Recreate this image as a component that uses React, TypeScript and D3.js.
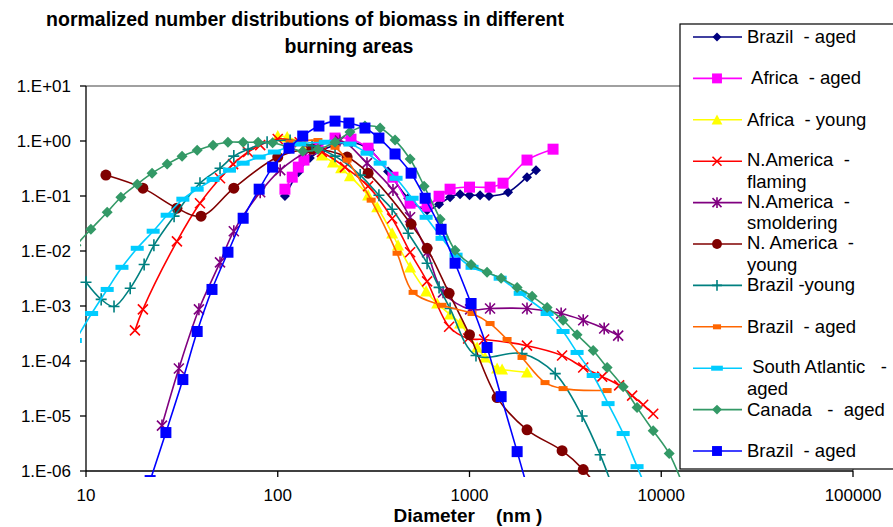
import React from "react";
import * as d3 from "d3";

// ---------- data (diameter nm, normalized number) ----------
const brazilAgedNavy: [number, number][] = [
  [109, 0.1], [128, 0.27], [147, 0.49], [170, 0.68], [199, 0.84], [244, 0.95], [303, 0.68], [376, 0.28],
  [479, 0.091], [601, 0.055], [694, 0.071], [792, 0.095], [893, 0.108], [1000, 0.103], [1135, 0.103],
  [1264, 0.1], [1589, 0.117], [1995, 0.22], [2223, 0.295],
];
const africaAged: [number, number][] = [
  [109, 0.133], [119, 0.22], [128, 0.335], [137, 0.45], [162, 0.74], [199, 1.13], [241, 1.08], [296, 0.74],
  [399, 0.22], [490, 0.074], [601, 0.065], [694, 0.099], [792, 0.133], [1000, 0.145], [1280, 0.145],
  [1496, 0.171], [1995, 0.45], [2727, 0.71],
];
const africaYoung: [number, number][] = [
  [100, 1.23], [112, 1.18], [139, 0.84], [170, 0.55], [194, 0.41], [214, 0.32], [238, 0.23], [296, 0.103],
  [330, 0.0625], [395, 0.021], [424, 0.0127], [490, 0.00505], [594, 0.00185], [678, 0.00111], [792, 0.000703],
  [893, 0.000482], [1096, 0.000176], [1205, 0.000116], [1393, 7.3e-5], [1479, 7.0e-5], [1995, 6.2e-5],
];
const naFlaming: [number, number][] = [
  [18, 3.6e-4], [19.8, 8.7e-4], [29.8, 0.015], [39.3, 0.074], [50, 0.21], [58.5, 0.38], [70, 0.63], [81, 0.84],
  [100, 1.09], [130, 0.95], [170, 0.63], [224, 0.335], [296, 0.151], [395, 0.039], [490, 0.0095], [601, 0.0028],
  [783, 4.2e-4], [984, 2.57e-4], [1192, 2.46e-4], [1995, 1.9e-4], [3040, 1.26e-4], [3918, 7.6e-5], [4920, 5.2e-5],
  [6030, 3.6e-5], [7050, 2.35e-5], [8050, 1.6e-5], [9080, 1.1e-5],
];
const naSmoldering: [number, number][] = [
  [24.9, 6.7e-6], [30.5, 7.3e-5], [38.8, 8.7e-4], [50, 0.0062], [59, 0.0229], [81, 0.117], [103, 0.295],
  [147, 0.68], [211, 1.02], [292, 0.395], [399, 0.128], [490, 0.041], [601, 0.0095], [728, 1.77e-3],
  [1007, 8.7e-4], [1280, 9.0e-4], [1995, 9.0e-4], [3006, 7.3e-4], [3918, 5.5e-4], [5040, 3.9e-4], [5960, 2.9e-4],
];
const naYoung: [number, number][] = [
  [12.7, 0.24], [19.8, 0.139], [29.8, 0.06], [39.8, 0.043], [59, 0.139], [100, 0.51], [151, 0.71], [230, 0.51],
  [296, 0.26], [496, 0.0306], [601, 0.0112], [783, 1.7e-3], [1000, 3.0e-4], [1393, 2.16e-5], [1995, 5.6e-6],
  [3040, 2.34e-6], [3918, 1.06e-6], [4800, 4.4e-7],
];
const brazilYoung: [number, number][] = [
  [10, 2.7e-3], [12, 1.32e-3], [14, 9.8e-4], [17, 2.1e-3], [20.1, 5.7e-3], [22.6, 0.0127], [28.8, 0.043],
  [39.3, 0.171], [50, 0.32], [59, 0.53], [70, 0.71], [88, 0.95], [116, 1.02], [151, 0.82], [199, 0.53],
  [269, 0.24], [337, 0.103], [395, 0.0575], [479, 0.021], [601, 0.006], [694, 2.18e-3], [792, 9.0e-4],
  [1081, 1.26e-4], [1879, 1.37e-4], [2800, 5.9e-5], [3867, 1.0e-5], [4800, 1.98e-6], [5540, 5.4e-7],
];
const brazilAgedOrange: [number, number][] = [
  [116, 0.95], [162, 1.02], [199, 0.77], [230, 0.45], [307, 0.084], [419, 0.0091], [508, 1.77e-3],
  [719, 1.03e-3], [1031, 7.3e-4], [1280, 4.8e-4], [1570, 2.46e-4], [1879, 1.16e-4], [2477, 4.05e-5],
  [3076, 3.15e-5], [5220, 2.9e-5],
];
const southAtlantic: [number, number][] = [
  [8.8, 2.36e-4], [10.7, 7.3e-4], [12.9, 2.0e-3], [15.4, 5.05e-3], [18.5, 0.0112], [22.4, 0.0229],
  [26.5, 0.0447], [32, 0.0875], [38, 0.133], [46, 0.2], [56, 0.295], [66, 0.395], [80, 0.51], [96, 0.63],
  [130, 0.88], [177, 0.95], [238, 0.88], [292, 0.6], [342, 0.395], [414, 0.21], [502, 0.091], [594, 0.041],
  [719, 0.017], [851, 8.4e-3], [1031, 5.05e-3], [1445, 3.2e-3], [1838, 1.7e-3], [2540, 7.3e-4],
  [3076, 3.44e-4], [3640, 1.43e-4], [4415, 5.45e-5], [5280, 1.68e-5], [6330, 4.8e-6], [7480, 1.2e-6],
  [8240, 5.4e-7],
];
const canadaAged: [number, number][] = [
  [8.87, 0.0127], [10.6, 0.0248], [12.9, 0.0507], [15.2, 0.095], [18.5, 0.164], [22.1, 0.26], [26.5, 0.38],
  [31.7, 0.53], [38, 0.68], [46, 0.84], [55, 0.95], [66, 0.95], [79, 0.95], [94, 0.93], [113, 0.78],
  [135, 0.65], [162, 0.71], [199, 0.95], [238, 1.45], [285, 1.87], [342, 1.72], [409, 1.04], [490, 0.47],
  [580, 0.151], [703, 0.0378], [841, 0.0103], [1019, 5.7e-3], [1235, 4.1e-3], [1462, 3.2e-3], [1772, 2.18e-3],
  [2122, 1.5e-3], [2540, 9.4e-4], [3076, 5.5e-4], [3640, 3.0e-4], [4415, 1.55e-4], [5220, 7.6e-5],
  [6330, 3.4e-5], [7480, 1.42e-5], [9080, 5.4e-6], [11000, 2.07e-6], [13300, 4.4e-7],
];
const brazilAgedBlue: [number, number][] = [
  [21.6, 6.7e-7], [26.1, 5.0e-6], [32, 4.6e-5], [38, 3.44e-4], [45.4, 2.0e-3], [55, 9.5e-3], [66, 0.0394],
  [80, 0.133], [94, 0.335], [114.5, 0.74], [135, 1.23], [164, 1.87], [199, 2.3], [235, 2.12], [285, 1.72],
  [337, 1.13], [409, 0.58], [496, 0.26], [587, 0.091], [711, 0.0248], [841, 6.0e-3], [1019, 1.11e-3],
  [1235, 1.76e-4], [1462, 2.25e-5], [1772, 2.25e-6], [2023, 4.4e-7],
];

const seriesData = [
  brazilAgedNavy, africaAged, africaYoung, naFlaming, naSmoldering, naYoung,
  brazilYoung, brazilAgedOrange, southAtlantic, canadaAged, brazilAgedBlue,
];
const seriesLabels: string[][] = [
  ["Brazil  - aged"],
  [" Africa  - aged"],
  ["Africa  - young"],
  ["N.America  -", "flaming"],
  ["N.America  -", "smoldering"],
  ["N. America  -", "young"],
  ["Brazil -young"],
  ["Brazil  - aged"],
  [" South Atlantic   -", "aged"],
  ["Canada   -  aged"],
  ["Brazil  - aged"],
];
const xTickValues = [10, 100, 1000, 10000, 100000];
const xTickLabels = ["10", "100", "1000", "10000", "100000"];
const yTickValues = [1e-6, 1e-5, 1e-4, 1e-3, 1e-2, 1e-1, 1, 10];
const yTickLabels = ["1.E-06", "1.E-05", "1.E-04", "1.E-03", "1.E-02", "1.E-01", "1.E+00", "1.E+01"];

// ---------- styles ----------
type MarkerKind = "diamond" | "square" | "triangle" | "x" | "star" | "circle" | "plus" | "dash" | "longdash";
const styles: { color: string; marker: MarkerKind; size: number }[] = [
  { color: "#000080", marker: "diamond", size: 5 },
  { color: "#FF00FF", marker: "square", size: 5.5 },
  { color: "#FFFF00", marker: "triangle", size: 6 },
  { color: "#FF0000", marker: "x", size: 5 },
  { color: "#800080", marker: "star", size: 5 },
  { color: "#800000", marker: "circle", size: 5.5 },
  { color: "#008080", marker: "plus", size: 5.5 },
  { color: "#FF6600", marker: "dash", size: 4.5 },
  { color: "#00CCFF", marker: "longdash", size: 6.5 },
  { color: "#339966", marker: "diamond", size: 5.5 },
  { color: "#0000FF", marker: "square", size: 5.5 },
];

const FONT = "'Liberation Sans', Arial, Helvetica, sans-serif";

function Marker({ kind, size, color, x, y }: { kind: MarkerKind; size: number; color: string; x: number; y: number }) {
  const s = size;
  const t = `translate(${x},${y})`;
  switch (kind) {
    case "diamond":
      return <path transform={t} d={`M0,${-s}L${s},0L0,${s}L${-s},0Z`} fill={color} />;
    case "square":
      return <rect transform={t} x={-s} y={-s} width={2 * s} height={2 * s} fill={color} />;
    case "triangle":
      return <path transform={t} d={`M0,${-s}L${s},${s * 0.85}L${-s},${s * 0.85}Z`} fill={color} />;
    case "x":
      return <path transform={t} d={`M${-s},${-s}L${s},${s}M${-s},${s}L${s},${-s}`} stroke={color} strokeWidth={1.6} fill="none" />;
    case "star":
      return <path transform={t} d={`M${-s},${-s}L${s},${s}M${-s},${s}L${s},${-s}M0,${-s * 1.2}L0,${s * 1.2}`} stroke={color} strokeWidth={1.6} fill="none" />;
    case "circle":
      return <circle cx={x} cy={y} r={s} fill={color} />;
    case "plus":
      return <path transform={t} d={`M${-s},0L${s},0M0,${-s * 1.1}L0,${s * 1.1}`} stroke={color} strokeWidth={1.6} fill="none" />;
    case "dash":
      return <rect transform={t} x={-s} y={-2.5} width={2 * s} height={5} fill={color} />;
    case "longdash":
      return <rect transform={t} x={-s} y={-2.5} width={2 * s} height={5} fill={color} />;
  }
  return null;
}

export default function App() {
  const W = 893, H = 527;
  const left = 86, right = 853, top = 86, bottom = 471;
  const x = d3.scaleLog().domain([10, 100000]).range([left, right]);
  const y = d3.scaleLog().domain([1e-6, 10]).range([bottom, top]);
  const line = d3
    .line<[number, number]>()
    .x((d) => x(d[0]))
    .y((d) => y(d[1]))
    .curve(d3.curveCatmullRom.alpha(0.5));

  const legendX = 680, legendY = 24;
  const legendRow = d3.scaleLinear().domain([0, 10]).range([37, 451]);

  return (
    <div style={{ position: "absolute", left: 0, top: 0, width: W, height: H }}>
      <svg width={W} height={H} style={{ display: "block", background: "#fff" }} fontFamily={FONT}>
        <defs>
          <clipPath id="plotclip">
            <rect x={80} y={80} width={790} height={397} />
          </clipPath>
        </defs>
        <rect x={0} y={0} width={W} height={H} fill="#fff" />
        {/* title */}
        <text x={305} y={26} textAnchor="middle" fontSize={19.5} fontWeight="bold" fill="#000">
          normalized number distributions of biomass in different
        </text>
        <text x={349} y={53} textAnchor="middle" fontSize={19.5} fontWeight="bold" fill="#000">
          burning areas
        </text>
        {/* plot border */}
        <line x1={left} y1={top} x2={right} y2={top} stroke="#808080" strokeWidth={1.5} />
        <line x1={right} y1={top} x2={right} y2={bottom} stroke="#808080" strokeWidth={1.5} />
        {/* axes */}
        <line x1={left} y1={top} x2={left} y2={bottom} stroke="#000" strokeWidth={1.3} />
        <line x1={left} y1={bottom} x2={right} y2={bottom} stroke="#000" strokeWidth={1.3} />
        {yTickValues.map((v, i) => (
          <g key={"y" + i}>
            <line x1={left - 6} x2={left} y1={y(v)} y2={y(v)} stroke="#000" strokeWidth={1.3} />
            <text x={71} y={y(v)} dy="0.35em" textAnchor="end" fontSize={17} fill="#000">
              {yTickLabels[i]}
            </text>
          </g>
        ))}
        {xTickValues.map((v, i) => (
          <g key={"x" + i}>
            <line x1={x(v)} x2={x(v)} y1={bottom} y2={bottom + 6} stroke="#000" strokeWidth={1.3} />
            <text x={x(v)} y={501} textAnchor="middle" fontSize={17} fill="#000">
              {xTickLabels[i]}
            </text>
          </g>
        ))}
        <text x={468} y={522} textAnchor="middle" fontSize={19} fontWeight="bold" fill="#000" style={{ whiteSpace: "pre" }}>
          {"Diameter    (nm )"}
        </text>
        {/* series */}
        <g clipPath="url(#plotclip)">
          {seriesData.map((data, si) => {
            const st = styles[si];
            return (
              <g key={"s" + si}>
                <path d={line(data) || ""} fill="none" stroke={st.color} strokeWidth={1.6} />
                {data.map((d, j) => (
                  <Marker key={j} kind={st.marker} size={st.size} color={st.color} x={x(d[0])} y={y(d[1])} />
                ))}
              </g>
            );
          })}
        </g>
        {/* legend */}
        <rect x={legendX} y={legendY} width={260} height={445} fill="#fff" stroke="#000" strokeWidth={1.2} />
        {seriesLabels.map((lab, i) => {
          const st = styles[i];
          const cy = legendRow(i);
          const two = lab.length > 1;
          return (
            <g key={"l" + i}>
              <line x1={693} x2={742} y1={cy} y2={cy} stroke={st.color} strokeWidth={1.6} />
              <Marker kind={st.marker} size={st.size * 0.9} color={st.color} x={717} y={cy} />
              {lab.map((t, k) => (
                <text key={k} x={747} y={cy + (two ? 5 : 6) + k * 21.5} fontSize={18.5} fill="#000" style={{ whiteSpace: "pre" }}>
                  {t}
                </text>
              ))}
            </g>
          );
        })}
      </svg>
    </div>
  );
}
